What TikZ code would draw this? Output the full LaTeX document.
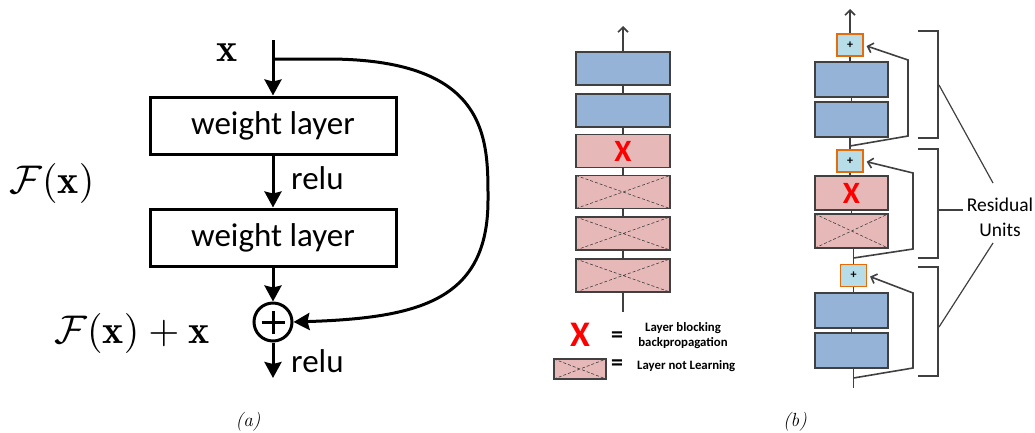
\documentclass[tikz,border=0pt]{standalone}
\usepackage{fontspec}
\newfontfamily\calib{Carlito}
\usetikzlibrary{arrows.meta}
\definecolor{blu}{HTML}{95B3D7}
\definecolor{pnk}{HTML}{E6B9B8}
\definecolor{dk}{HTML}{404040}
\definecolor{lbl}{HTML}{B7DEE8}
\definecolor{org}{HTML}{E46C0A}
\tikzset{
  wbox/.style={draw=black, line width=3pt, minimum width=246pt, minimum height=57pt, inner sep=0pt, font=\calib\fontsize{33}{36}\selectfont},
  arr/.style={line width=3pt, -{Stealth[length=16pt,width=17pt,inset=2pt]}},
  ln/.style={draw=dk, line width=1.8pt},
  arrg/.style={draw=dk, line width=1.6pt, -{Straight Barb[length=5pt,width=10pt]}},
  blk/.style={draw=dk, line width=1.5pt, fill=blu, minimum width=94pt, minimum height=33pt, inner sep=0pt},
  pbk/.style={draw=dk, line width=1.5pt, fill=pnk, minimum width=94pt, minimum height=33pt, inner sep=0pt},
  crs/.style={path picture={\draw[densely dashed, dk, line width=0.6pt] (path picture bounding box.north west) -- (path picture bounding box.south east) (path picture bounding box.south west) -- (path picture bounding box.north east);}},
  pbox/.style={draw=org, line width=1.5pt, fill=lbl, minimum width=26pt, minimum height=22pt, inner sep=0pt, font=\calib\bfseries\fontsize{12}{14}\selectfont},
  redx/.style={text=red, font=\calib\bfseries\fontsize{31}{34}\selectfont, inner sep=0pt},
  mth/.style={font=\fontsize{10}{12}\selectfont, inner sep=0pt, scale=4},
  sf/.style={font=\calib\fontsize{33}{36}\selectfont, inner sep=0pt},
  captxt/.style={font=\fontsize{19}{21}\selectfont\itshape, inner sep=0pt},
  eqs/.style={font=\calib\bfseries\fontsize{24}{26}\selectfont, inner sep=0pt},
  lgt/.style={font=\calib\bfseries\fontsize{12.8}{14.5}\selectfont, inner sep=0pt},
}
\begin{document}
\begin{tikzpicture}[x=1pt,y=-1pt]
\useasboundingbox (0,0) rectangle (1035,432);
% ---------- (a) ----------
\coordinate (xin) at (273,40);
\coordinate (br) at (273,59);
\node[wbox] (w1) at (273,125.5) {weight layer};
\node[wbox] (w2) at (273,237.5) {weight layer};
\node[circle, draw, line width=3pt, minimum size=38pt, inner sep=0pt] (sum) at (273,322) {};
\draw[line width=3pt] ([xshift=-11.5pt]sum.center) -- ([xshift=11.5pt]sum.center)
  ([yshift=-11.5pt]sum.center) -- ([yshift=11.5pt]sum.center);
\coordinate (out) at (273,378);
\draw[arr] (xin) -- (w1.north);
\draw[arr] (w1) -- (w2);
\draw[arr] (w2) -- (sum);
\draw[arr] (sum) -- (out);
\draw[arr] (br) -- (330,59) .. controls (490,60) and (488,140) .. (488,200) .. controls (488,300) and (420,318) .. (sum.east);
\node[mth] (lx) at (227,53) {$\mathbf{x}$};
\node[sf, anchor=west] (r1) at (291,178) {relu};
\node[sf, anchor=west] (r2) at (291,361) {relu};
\node[mth] (fx) at (52,183) {$\mathcal{F}(\mathbf{x})$};
\node[mth] (fxx) at (132,333) {$\mathcal{F}(\mathbf{x})+\mathbf{x}$};
\node[captxt] (ca) at (248,422) {(a)};
\node[captxt] (cb) at (795,422) {(b)};
% ---------- (b) left ----------
\node[blk] (l1) at (623,68.5) {};
\node[blk] (l2) at (623,110.5) {};
\node[pbk] (l3) at (623,151) {};
\node[redx] at (l3) {X};
\node[pbk, crs] (l4) at (623,192) {};
\node[pbk, crs] (l5) at (623,233.5) {};
\node[pbk, crs] (l6) at (623,275.5) {};
\coordinate (ltop) at (623,26);
\coordinate (lbot) at (623,312);
\draw[arrg] (l1) -- (ltop);
\draw[ln] (l1) -- (l2) (l2) -- (l3) (l3) -- (l4) (l4) -- (l5) (l5) -- (l6) (l6) -- (lbot);
% legend
\node[redx, font=\calib\bfseries\fontsize{36}{38}\selectfont] (lgx) at (580,335) {X};
\node[eqs] (eq1) at (617,337) {=};
\node[lgt, align=center] (lg1) at (683,335.5) {Layer blocking\\backpropagation};
\node[pbk, crs, minimum width=52pt, minimum height=20pt] (lgb) at (580,369) {};
\node[eqs] (eq2) at (617,365) {=};
\node[lgt, anchor=west] (lg2) at (637,366) {Layer not Learning};
% ---------- (b) right ----------
\node[pbox] (p1) at (850,45) {+};
\node[blk, minimum width=73pt, minimum height=35pt] (a1) at (851.5,79.5) {};
\node[blk, minimum width=73pt, minimum height=35pt] (a2) at (851.5,119.5) {};
\node[pbox] (p2) at (850,161) {+};
\node[pbk, minimum width=73pt, minimum height=34pt] (xb) at (851.5,193) {};
\node[redx] at (xb) {X};
\node[pbk, crs, minimum width=73pt, minimum height=34pt] (cr) at (851.5,231) {};
\node[pbox] (p3) at (853.5,275.5) {+};
\node[blk, minimum width=73pt, minimum height=35pt] (c1) at (851.5,310.5) {};
\node[blk, minimum width=73pt, minimum height=35pt] (c2) at (851.5,350.5) {};
\coordinate (rtop) at (850,9);
\coordinate (rbot) at (853.5,388);
\draw[arrg] (p1) -- (rtop);
\draw[ln] (p1) -- (p1 |- a1.north) (a1) -- (a2) (p2) -- (p2 |- a2.south)
  (p2) -- (p2 |- xb.north) (xb) -- (cr) (p3) -- (p3 |- cr.south)
  (p3) -- (p3 |- c1.north) (c1) -- (c2) (rbot) -- (rbot |- c2.south);
% skip connections
\coordinate (s1) at (850,146);
\coordinate (s2) at (853.5,258);
\coordinate (s3) at (853.5,378);
\draw[arrg, shorten >=3pt] (s1) -- (908,136) -- (908,60) -- (p1.east);
\draw[arrg, shorten >=3pt] (s2) -- (913,249) -- (913,173) -- (p2.east);
\draw[arrg, shorten >=3pt] (s3) -- (913,368) -- (913,293) -- (p3.east);
% brackets
\draw[ln] (918,31) -- (938,31) -- (938,138) -- (918,138);
\draw[ln] (918,149) -- (938,149) -- (938,258) -- (918,258);
\draw[ln] (918,267) -- (938,267) -- (938,376) -- (918,376);
\node[font=\calib\fontsize{19.5}{25}\selectfont, align=center, inner sep=0pt] (ru) at (1000,217) {Residual\\Units};
\coordinate (b1) at (939,85);
\coordinate (b2) at (938,210);
\coordinate (b3) at (939,327);
\draw[ln, line width=1.2pt] (b1) -- (993,183);
\draw[ln, line width=1.2pt] (b2) -- (963,210);
\draw[ln, line width=1.2pt] (b3) -- (993,243);
\end{tikzpicture}
\end{document}
